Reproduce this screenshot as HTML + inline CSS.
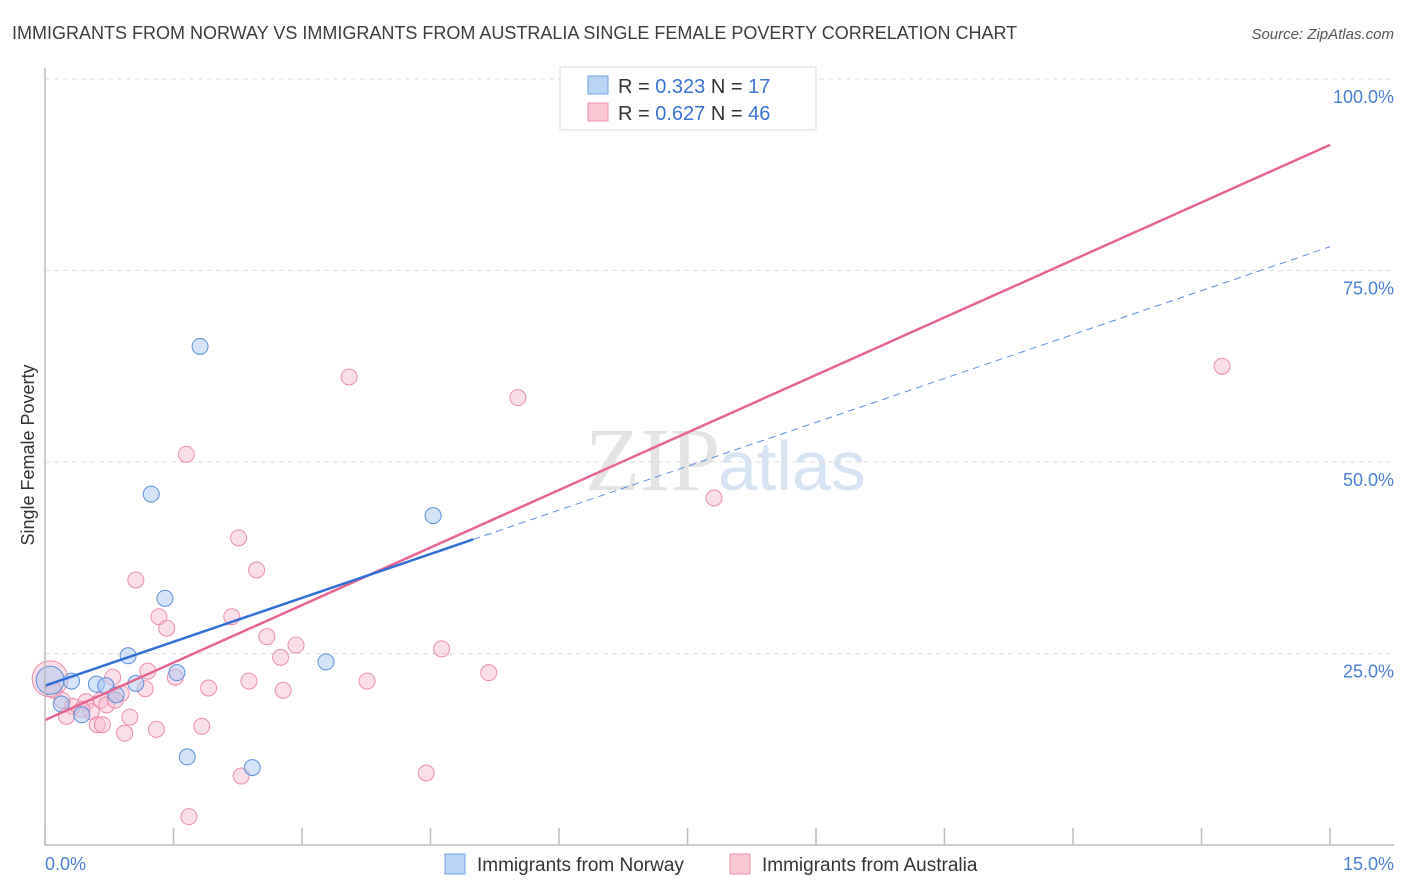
<!DOCTYPE html>
<html><head><meta charset="utf-8"><style>
body{margin:0;background:#fff;font-family:"Liberation Sans",sans-serif}
#wrap{position:relative;width:1406px;height:892px;overflow:hidden}
</style></head><body>
<div id="wrap">
<svg id="svg" width="1406" height="892" xmlns="http://www.w3.org/2000/svg">
<text x="12" y="39" font-size="18" fill="#3c3c3c">IMMIGRANTS FROM NORWAY VS IMMIGRANTS FROM AUSTRALIA SINGLE FEMALE POVERTY CORRELATION CHART</text>
<text x="1394" y="39" font-size="15" fill="#555" font-style="italic" text-anchor="end">Source: ZipAtlas.com</text>
<text x="34" y="455" font-size="18" fill="#333" text-anchor="middle" transform="rotate(-90 34 455)">Single Female Poverty</text>
<text x="720" y="490" font-size="90" fill="#e4e4e4" font-family="Liberation Serif,serif" text-anchor="end">ZIP</text>
<text x="718" y="490" font-size="70" fill="#d6e4f4">atlas</text>
<g id="grid"></g><g id="pts"></g><g id="lines"></g>
<line x1="45" y1="68" x2="45" y2="846" stroke="#bbb" stroke-width="1.5"/>
<line x1="45" y1="845" x2="1394" y2="845" stroke="#bbb" stroke-width="1.5"/>
<text x="45" y="870" font-size="18" fill="#4a7fd4">0.0%</text>
<text x="1394" y="870" font-size="18" fill="#4a7fd4" text-anchor="end">15.0%</text>
<g>
<rect x="560" y="67" width="256" height="63" fill="#fff" stroke="#ddd"/>
<rect x="588" y="76" width="20" height="18" fill="#b9d3f3" stroke="#6f9fe0"/>
<rect x="588" y="103" width="20" height="18" fill="#f9c6d4" stroke="#ea8fab"/>
<text x="618" y="93" font-size="20" fill="#333">R = <tspan fill="#3a73d6">0.323</tspan>   N = <tspan fill="#3a73d6"> 17</tspan></text>
<text x="618" y="120" font-size="20" fill="#333">R = <tspan fill="#3a73d6">0.627</tspan>   N = <tspan fill="#3a73d6">46</tspan></text>
</g>
<g>
<rect x="445" y="854" width="20" height="20" fill="#b9d3f3" stroke="#6f9fe0"/>
<text x="477" y="871" font-size="19" fill="#333">Immigrants from Norway</text>
<rect x="730" y="854" width="20" height="20" fill="#f9c6d4" stroke="#ea8fab"/>
<text x="762" y="871" font-size="19" fill="#333">Immigrants from Australia</text>
</g>
</svg></div>
<script>
const norwayX=[0.06,0.31,0.19,0.43,0.60,0.71,0.83,0.97,1.06,1.24,1.40,1.54,1.66,1.81,2.42,3.28,4.53];
const norwayY=[21.5,21.4,18.4,17.0,21.0,20.8,19.6,24.7,21.1,45.8,32.2,22.5,11.5,65.1,10.1,23.9,43.0];
const ausX=[0.06,6.17,3.55,5.52,1.65,7.81,13.74,2.26,2.47,1.06,1.33,1.42,2.18,2.59,2.93,4.63,2.75,1.20,1.52,5.18,2.38,3.76,1.91,2.78,1.17,0.79,0.89,0.65,0.48,0.72,0.32,0.25,0.54,0.99,0.61,0.67,1.83,0.93,1.30,4.45,2.29,1.68,0.10,0.20,0.82,0.43];
const ausY=[21.7,100,61.1,58.4,51.0,45.3,62.5,40.1,35.9,34.6,29.8,28.3,29.8,27.2,26.1,25.6,24.5,22.7,21.9,22.5,21.4,21.4,20.5,20.2,20.4,21.9,19.8,18.9,18.7,18.3,18.1,16.8,17.4,16.7,15.7,15.7,15.5,14.6,15.1,9.4,9.0,3.7,20.2,18.9,18.9,17.7];
const yTicks=[25,50,75,100];
const xTicks=[0,1.5,3,4.5,6,7.5,9,10.5,12,13.5,15];
const ausLine=[16.3,91.4];
const norLine=[20.8,78.1];
const norSolidEnd=5.0;
const X=v=>45+v/15*1285, Y=v=>845-v/100*766;
const NS='http://www.w3.org/2000/svg';
function mk(t,a,p){const e=document.createElementNS(NS,t);for(const k in a)e.setAttribute(k,a[k]);p.appendChild(e);return e;}
const grid=document.getElementById('grid'),pts=document.getElementById('pts'),lines=document.getElementById('lines');
yTicks.forEach(t=>{
 const l=mk('line',{x1:45,x2:1394,y1:Y(t),y2:Y(t),stroke:'#ddd','stroke-dasharray':'5,4'},grid);
 
 
 const tx=mk('text',{x:1394,y:Y(t)+24,'font-size':18,fill:'#4a7fd4','text-anchor':'end'},grid);
 tx.textContent=t.toFixed(1)+'%';
 
 
});
xTicks.forEach(t=>{
 const l=mk('line',{x1:X(t),x2:X(t),y1:828,y2:845,stroke:'#bbb','stroke-width':1.5},grid);
 
 
});
ausX.forEach((x,i)=>{
 const c=mk('circle',{cx:X(x),cy:Y(ausY[i]),r:i==0?18:8,fill:'#f7b8cb','fill-opacity':0.45,stroke:'#ea8fab','stroke-width':1},pts);
 
 
});
norwayX.forEach((x,i)=>{
 const c=mk('circle',{cx:X(x),cy:Y(norwayY[i]),r:i==0?14:8,fill:'#a9c8f0','fill-opacity':0.5,stroke:'#5b8fdc','stroke-width':1},pts);
 
 
});
const pl=mk('line',{x1:X(0),y1:Y(ausLine[0]),x2:X(15),y2:Y(ausLine[1]),stroke:'#e8648f','stroke-width':2.5},lines);


const ny=x=>norLine[0]+(norLine[1]-norLine[0])*x/15;
const bl=mk('line',{x1:X(0),y1:Y(norLine[0]),x2:X(norSolidEnd),y2:Y(ny(norSolidEnd)),stroke:'#2f6fd6','stroke-width':2.5},lines);


const bd=mk('line',{x1:X(norSolidEnd),y1:Y(ny(norSolidEnd)),x2:X(15),y2:Y(norLine[1]),stroke:'#5b8fdc','stroke-width':1,'stroke-dasharray':'7,5'},lines);


</script>
</body></html>
